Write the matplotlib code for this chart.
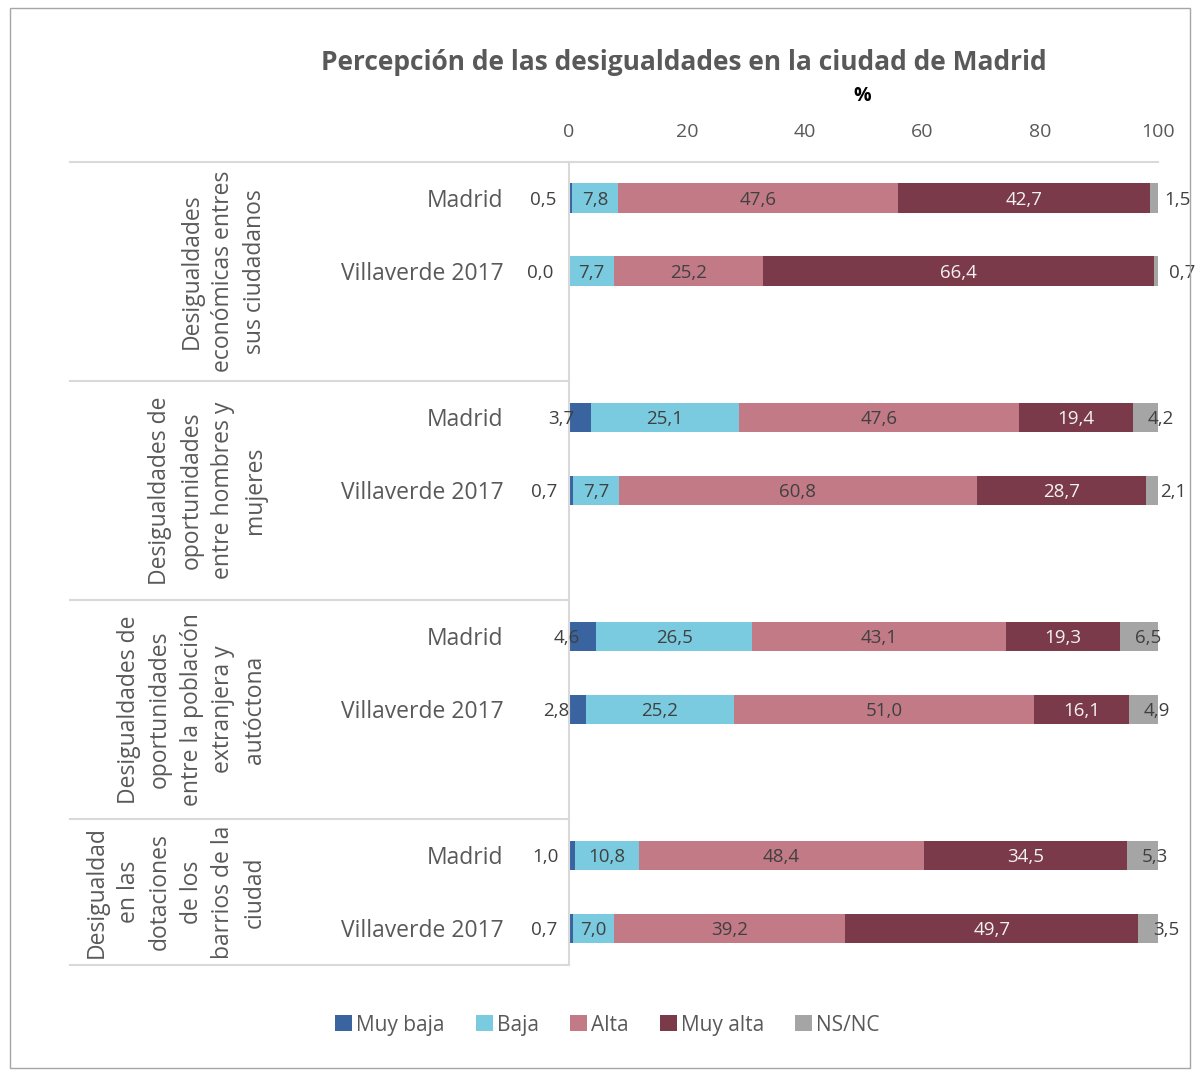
import matplotlib.pyplot as plt
from matplotlib.patches import Rectangle
import numpy as np

plt.rcParams["font.family"] = ["Open Sans", "DejaVu Sans"]

# Datos (%)
categorias = ["Muy baja", "Baja", "Alta", "Muy alta", "NS/NC"]
colores = ["#3A64A0", "#7ACBE0", "#C27A87", "#7B3A4A", "#A5A5A5"]
grupos = [
    "Desigualdades\neconómicas entres\nsus ciudadanos",
    "Desigualdades de\noportunidades\nentre hombres y\nmujeres",
    "Desigualdades de\noportunidades\nentre la población\nextranjera y\nautóctona",
    "Desigualdad\nen las\ndotaciones\nde los\nbarrios de la\nciudad",
]
filas = ["Madrid", "Villaverde 2017"] * 4
muy_baja = [0.5, 0.0, 3.7, 0.7, 4.6, 2.8, 1.0, 0.7]
baja = [7.8, 7.7, 25.1, 7.7, 26.5, 25.2, 10.8, 7.0]
alta = [47.6, 25.2, 47.6, 60.8, 43.1, 51.0, 48.4, 39.2]
muy_alta = [42.7, 66.4, 19.4, 28.7, 19.3, 16.1, 34.5, 49.7]
nsnc = [1.5, 0.7, 4.2, 2.1, 6.5, 4.9, 5.3, 3.5]

series = [muy_baja, baja, alta, muy_alta, nsnc]

# posiciones: cada grupo ocupa 3 huecos (el último sin hueco vacío)
pos = np.array([g * 3 + k for g in range(4) for k in range(2)])
limites = [-0.5, 2.5, 5.5, 8.5, 10.5]

fig = plt.figure(figsize=(12.03, 10.74), dpi=100)
ax = fig.add_axes([0.473, 0.1015, 0.4897, 0.7477])

texto = "#595959"
linea = "#D9D9D9"

izq = np.zeros(len(pos))
for nombre, valores, color in zip(categorias, series, colores):
    valores = np.array(valores)
    ax.barh(pos, valores, left=izq, height=0.41, color=color, label=nombre)
    for y, v, l in zip(pos, valores, izq):
        etiqueta = f"{v:.1f}".replace(".", ",")
        if nombre == "Muy baja":
            ax.text(v - 2.7, y, etiqueta, ha="right", va="center_baseline", fontsize=13.5, color="#404040")
        elif nombre == "NS/NC":
            ax.text(l + 2.5, y, etiqueta, ha="left", va="center_baseline", fontsize=13.5, color="#404040")
        else:
            c = "#F2F2F2" if nombre == "Muy alta" else "#404040"
            ax.text(l + v / 2, y, etiqueta, ha="center", va="center_baseline", fontsize=13.5, color=c)
    izq = izq + valores

ax.set_xlim(0, 100)
ax.set_ylim(limites[-1], limites[0])
ax.xaxis.tick_top()
ax.set_xticks([0, 20, 40, 60, 80, 100])
ax.tick_params(axis="x", length=0, pad=15, labelsize=14, labelcolor=texto)
ax.set_yticks(pos, filas)
ax.tick_params(axis="y", length=0, pad=47, labelsize=16.5, labelcolor=texto)
for s in ["top", "right", "bottom"]:
    ax.spines[s].set_visible(False)
ax.spines["left"].set_color(linea)
ax.spines["left"].set_linewidth(1.5)

# líneas separadoras de grupos
trans = ax.get_yaxis_transform()
x0 = (70 - 569) / 589
ax.plot([x0, 1], [limites[0], limites[0]], transform=trans, color=linea, lw=1.5, clip_on=False)
for yb in limites[1:]:
    ax.plot([x0, 0], [yb, yb], transform=trans, color=linea, lw=1.5, clip_on=False)

# etiquetas de grupo
for g, nombre in enumerate(grupos):
    yc = (limites[g] + limites[g + 1]) / 2
    ax.text(-0.513, yc, nombre, transform=trans, rotation=90, ha="right", va="center",
            multialignment="center", fontsize=16.5, color=texto, linespacing=1.42)

fig.text(0.5686, 0.942, "Percepción de las desigualdades en la ciudad de Madrid",
         ha="center", va="center", fontsize=19, fontweight="bold", color=texto)
fig.text(0.7166, 0.911, "%", ha="center", va="center", fontsize=14, fontweight="bold", color="black")

leg = fig.legend(loc="center", bbox_to_anchor=(0.505, 0.0456), ncol=5, frameon=False,
                 fontsize=15, handlelength=0.8, handleheight=0.8, handletextpad=0.2,
                 columnspacing=1.5, labelcolor=texto)

fig.patches.append(Rectangle((10 / 1203, 1 - 1068 / 1074), 1180 / 1203, 1060 / 1074,
                             transform=fig.transFigure, fill=False, edgecolor="#A6A6A6", lw=1))

fig.savefig("out.png", dpi=100)
